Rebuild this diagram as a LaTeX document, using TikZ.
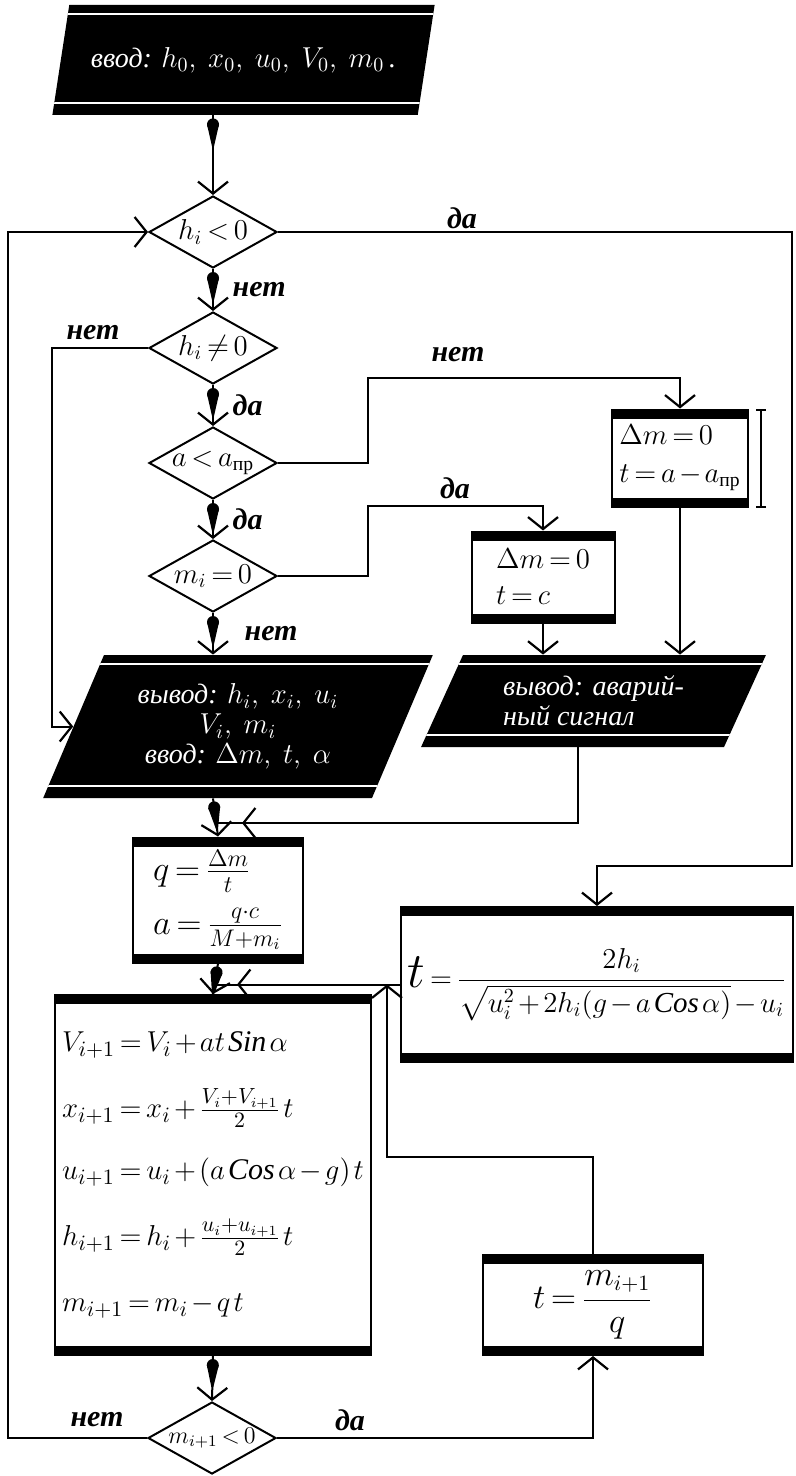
\documentclass[tikz,border=0pt]{standalone}
\usepackage{amsmath}
\usepackage{fontspec}
\setmainfont{Liberation Serif}
\usetikzlibrary{shapes.geometric,arrows.meta,decorations.markings}

\newcommand\tightmath{\thinmuskip=2mu\medmuskip=2mu plus 1mu\thickmuskip=3mu plus 2mu}

\tikzset{
  barb/.tip={Straight Barb[length=6pt,width=15pt,line width=1.1pt]},
  flow/.style={line width=1pt, -{barb}},
  drop/.style={flow, postaction={decorate, decoration={markings,
      mark=at position 4.5pt with {\fill (0,0) circle (3pt);
        \fill (0,3pt) -- (11pt,0.5pt) -- (11pt,-0.5pt) -- (0,-3pt) -- cycle;}}}},
  jointip/.style={line width=1pt, postaction={decorate, decoration={markings,
      mark=at position -12pt with {\arrow{barb}}}}},
  cond/.style={diamond, draw, line width=1pt, inner sep=0pt, shape aspect=1.75,
    minimum width=64pt, minimum height=36pt, font=\fontsize{14}{16}\selectfont\tightmath},
  calcbox/.style={rectangle, draw, line width=1pt, inner xsep=3pt, inner ysep=0pt, align=left,
    font=\fontsize{15}{18}\selectfont\tightmath,
    path picture={
      \fill (path picture bounding box.north west) rectangle ([yshift=-4.5pt]path picture bounding box.north east);
      \fill (path picture bounding box.south west) rectangle ([yshift=4.5pt]path picture bounding box.south east);}},
  io/.style={trapezium, trapezium stretches=true, fill=black, text=white, inner sep=0pt,
    font=\fontsize{14}{15}\selectfont\itshape,
    path picture={
      \draw[white, line width=0.7pt] ([yshift=-4.5pt]path picture bounding box.north west) -- ([yshift=-4.5pt]path picture bounding box.north east);
      \draw[white, line width=0.7pt] ([yshift=6pt]path picture bounding box.south west) -- ([yshift=6pt]path picture bounding box.south east);}},
  answer/.style={font=\fontsize{15}{17}\selectfont\itshape\bfseries},
}

\begin{document}
\begin{tikzpicture}[x=0.5pt, y=-0.5pt]
  \useasboundingbox (0,0) rectangle (796,1476);

  % blocks
  \node[io, minimum width=191.5pt, minimum height=55pt, trapezium left angle=60, trapezium right angle=120] (inp) at (243.5,60)
    {ввод: $h_0,\ x_0,\ u_0,\ V_0,\ m_0$\,.};
  \node[cond] (d1) at (213,232) {$h_i<0$};
  \node[cond] (d2) at (213,348) {$h_i\neq0$};
  \node[cond] (d3) at (213,463) {$a<a_{\text{пр}}$};
  \node[cond] (d4) at (213,576) {$m_i=0$};
  \node[calcbox, minimum width=68pt, minimum height=48.5pt, font=\fontsize{14}{19}\selectfont\tightmath] (boxA) at (680,458)
    {$\Delta m=0$\\$t=a-a_{\text{пр}}$};
  \node[calcbox, minimum width=71.5pt, minimum height=45.5pt] (boxC) at (543,577)
    {$\Delta m=0$\\$t=c$};
  \node[io, minimum width=195pt, minimum height=71.5pt, trapezium left angle=62, trapezium right angle=118, align=center] (out1) at (238,726.5)
    {вывод: $h_i,\ x_i,\ u_i$\\$V_i,\ m_i$\\ввод: $\Delta m,\ t,\ \alpha$};
  \node[io, minimum width=172.5pt, minimum height=46pt, trapezium left angle=60, trapezium right angle=120, align=left] (out2) at (593.5,701)
    {вывод: аварий-\\ный сигнал};
  \node[calcbox, minimum width=85pt, minimum height=62.5pt, font=\fontsize{17}{19}\selectfont\tightmath] (boxQ) at (218,900)
    {$q=\frac{\Delta m}{t}$\\[8pt]$a=\frac{q\cdot c}{M+m_i}$};
  \node[calcbox, minimum width=196pt, minimum height=77.5pt, align=center, font=\fontsize{14.5}{16}\selectfont\tightmath] (boxT) at (597,984.5)
    {$\mbox{\fontsize{28}{28}\selectfont$t$}=\dfrac{2h_i}{\sqrt{u_i^2+2h_i(g-a\,\mathit{Cos}\,\alpha)}-u_i}$};
  \node[calcbox, minimum width=158pt, minimum height=180pt] (boxV) at (213,1175)
    {$V_{i+1}=V_i+at\,\mathit{Sin}\,\alpha$\\[15pt]
     $x_{i+1}=x_i+\frac{V_i+V_{i+1}}{2}\,t$\\[13pt]
     $u_{i+1}=u_i+(a\,\mathit{Cos}\,\alpha-g)\,t$\\[15pt]
     $h_{i+1}=h_i+\frac{u_i+u_{i+1}}{2}\,t$\\[15pt]
     $m_{i+1}=m_i-q\,t$};
  \node[calcbox, minimum width=110pt, minimum height=50pt, align=center, font=\fontsize{16}{18}\selectfont\tightmath] (boxT2) at (593,1305)
    {$t=\dfrac{m_{i+1}}{q}$};
  \node[cond, font=\fontsize{12}{14}\selectfont\tightmath] (d5) at (212,1438) {$m_{i+1}<0$};

  % bends
  \coordinate (railL) at (8,0);
  \coordinate (stubL) at (52,0);
  \coordinate (railR) at (792,866);
  \coordinate (kneeN) at (368,378);
  \coordinate (kneeY) at (368,506);
  \coordinate (joinA) at (578,823);
  \coordinate (joinT) at (387,1157);

  % main column
  \draw[drop] (d1.north |- inp.south) -- (d1.north);
  \draw[drop] (d1.south) -- node[answer, right=6pt] (n1) {нет} (d2.north);
  \draw[drop] (d2.south) -- node[answer, right=6pt] (y2) {да} (d3.north);
  \draw[drop] (d3.south) -- node[answer, right=6pt] (y3) {да} (d4.north);
  \draw[drop] (d4.south) -- node[answer, right=12pt] (n4) {нет} (d4.south |- out1.north);
  \draw[drop] (d4.south |- out1.south) -- (boxQ.north);
  \draw[drop] (boxQ.south) -- (boxV.north);
  \draw[drop] (boxV.south) -- (d5.north);

  % branches
  \draw[flow] (d1.east) -- (d1.east -| railR) -- (railR) -- (railR -| boxT.north) -- (boxT.north);
  \node[answer] (y1) at (462,218) {да};
  \draw[flow] (d2.west) -- (d2.west -| stubL) -- (stubL |- out1.west) -- (out1.west);
  \node[answer] (n2) at (93,333) {нет};
  \draw[flow] (d3.east) -- (d3.east -| kneeN) -- (kneeN) -- (kneeN -| boxA.north) -- (boxA.north);
  \node[answer] (n3) at (458,355) {нет};
  \draw[flow] (d4.east) -- (d4.east -| kneeY) -- (kneeY) -- (kneeY -| boxC.north) -- (boxC.north);
  \node[answer] (y4) at (455,488) {да};
  \draw[flow] (boxC.south) -- (boxC.south |- out2.north);
  \draw[flow] (boxA.south) -- (boxA.south |- out2.north);
  \draw[line width=1pt, {Bar[width=5pt]}-{Bar[width=5pt]}] ([xshift=6pt]boxA.north east) -- ([xshift=6pt]boxA.south east);
  \draw[jointip] (joinA |- out2.south) -- (joinA) -- (joinA -| boxQ.north);
  \draw[jointip] (boxT.west) -- (boxT.west -| boxV.north);
  \draw[flow] (boxT2.north) -- (boxT2.north |- joinT) -- (joinT) -- (joinT |- boxT.west);
  \draw[flow] (d5.east) -- (d5.east -| boxT2.south) -- (boxT2.south);
  \node[answer] (y5) at (350,1420) {да};
  \draw[flow] (d5.west) -- (d5.west -| railL) -- (railL |- d1.west) -- (d1.west);
  \node[answer] (n5) at (97,1420) {нет};
\end{tikzpicture}
\end{document}
